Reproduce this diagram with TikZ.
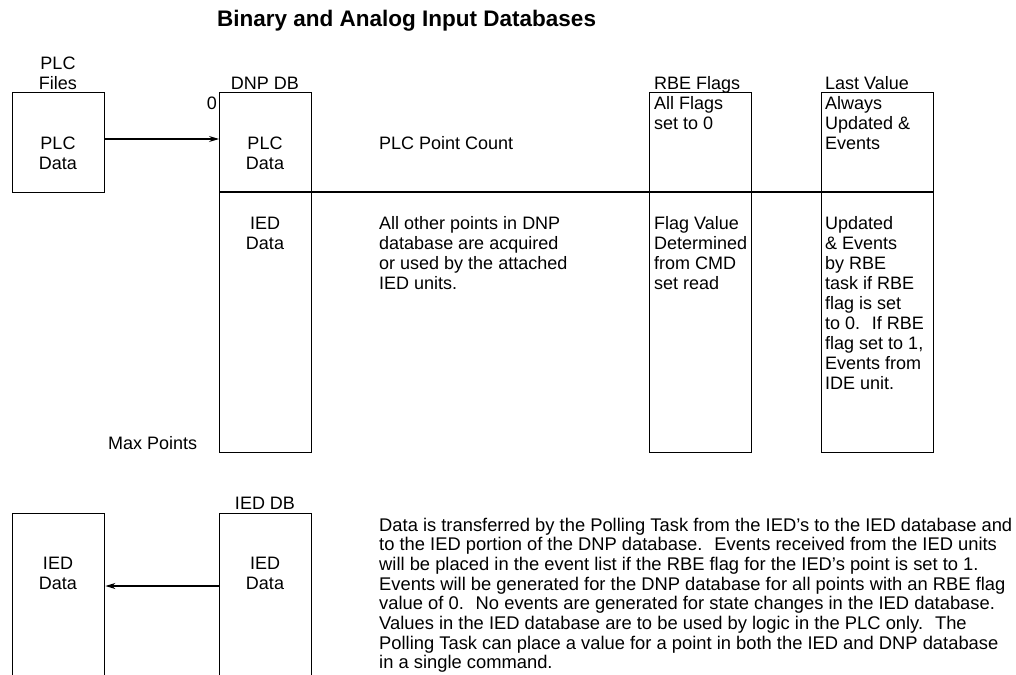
\documentclass[tikz,border=0pt]{standalone}
\usepackage{fontspec}
\setmainfont{Liberation Sans}
\usetikzlibrary{arrows.meta}
\tikzset{
  box/.style={draw=black, line width=1.4pt, inner sep=0, anchor=north west},
  txt/.style={inner sep=0, font=\fontsize{18}{20}\selectfont, align=left, anchor=north west},
  ctxt/.style={inner sep=0, font=\fontsize{18}{20}\selectfont, align=center, anchor=north},
  lbl/.style={inner sep=0, font=\fontsize{18}{20}\selectfont, anchor=base},
  arr/.style={draw=black, line width=1.2pt, -{Stealth[length=10pt,width=6pt]}},
  sep/.style={draw=black, line width=1.2pt}
}
\begin{document}
\begin{tikzpicture}[x=1pt,y=-1pt]
\useasboundingbox (0,0) rectangle (1016,674);
\clip (0,0) rectangle (1016,674);
\fill[white] (0,0) rectangle (1016,674);
% title
\node[inner sep=0, anchor=base west, font=\fontsize{22.5}{27}\selectfont\bfseries] (title) at (217,27) {Binary and Analog Input Databases};
% boxes
\node[box, minimum width=92pt, minimum height=100pt] (plcfiles) at (12,92) {};
\node[box, minimum width=92pt, minimum height=360pt] (dnp) at (219,92) {};
\node[box, minimum width=102pt, minimum height=360pt] (rbe) at (649,92) {};
\node[box, minimum width=112pt, minimum height=360pt] (last) at (821,92) {};
\node[box, minimum width=92pt, minimum height=200pt] (iedleft) at (12,513) {};
\node[box, minimum width=92pt, minimum height=200pt] (ieddb) at (219,513) {};
% divider
\draw[sep] (219,192) -- (933,192);
% labels above boxes
\node[ctxt] (plcfileslbl) at (58,56.5) {PLC\\Files};
\node[lbl] (dnplbl) at (265,89.5) {DNP DB};
\node[lbl] (zero) at (212,109.5) {0};
\node[inner sep=0, font=\fontsize{18}{20}\selectfont, anchor=base west] (rbelbl) at (654,89.5) {RBE Flags};
\node[inner sep=0, font=\fontsize{18}{20}\selectfont, anchor=base west] (lastlbl) at (825,89.5) {Last Value};
\node[lbl] (ieddblbl) at (265,509.5) {IED DB};
% box contents
\node[ctxt] (plcdata1) at (58,136.5) {PLC\\Data};
\node[ctxt] (plcdata2) at (265,136.5) {PLC\\Data};
\node[ctxt] (ieddata1) at (265,216.5) {IED\\Data};
\node[ctxt] (ieddata2) at (58,557) {IED\\Data};
\node[ctxt] (ieddata3) at (265,557) {IED\\Data};
\node[inner sep=0, font=\fontsize{18}{20}\selectfont, anchor=base west] (count) at (379,149.5) {PLC Point Count};
\node[txt] (others) at (379,216.5) {All other points in DNP\\database are acquired\\or used by the attached\\IED units.};
\node[txt] (allflags) at (654,96.5) {All Flags\\set to 0};
\node[txt] (always) at (825,96.5) {Always\\Updated \&\\Events};
\node[txt] (flagval) at (654,216.5) {Flag Value\\Determined\\from CMD\\set read};
\node[txt] (updated) at (825,216.5) {Updated\\\& Events\\by RBE\\task if RBE\\flag is set\\to 0.~ If RBE\\flag set to 1,\\Events from\\IDE unit.};
\node[inner sep=0, font=\fontsize{18}{20}\selectfont, anchor=base west] (maxpts) at (108,449.5) {Max Points};
\node[inner sep=0, font=\fontsize{18.35}{19.7}\selectfont, align=left, anchor=north west] (para) at (379,517.5) {Data is transferred by the Polling Task from the IED's to the IED database and\\to the IED portion of the DNP database.~ Events received from the IED units\\will be placed in the event list if the RBE flag for the IED's point is set to 1.\\Events will be generated for the DNP database for all points with an RBE flag\\value of 0.~ No events are generated for state changes in the IED database.\\Values in the IED database are to be used by logic in the PLC only.~ The\\Polling Task can place a value for a point in both the IED and DNP database\\in a single command.};
% connectors
\coordinate (a1) at (104,139);
\draw[arr] (a1) -- (a1 -| dnp.west);
\coordinate (a2) at (219,586);
\draw[arr] (a2) -- (a2 -| iedleft.east);
\end{tikzpicture}
\end{document}
